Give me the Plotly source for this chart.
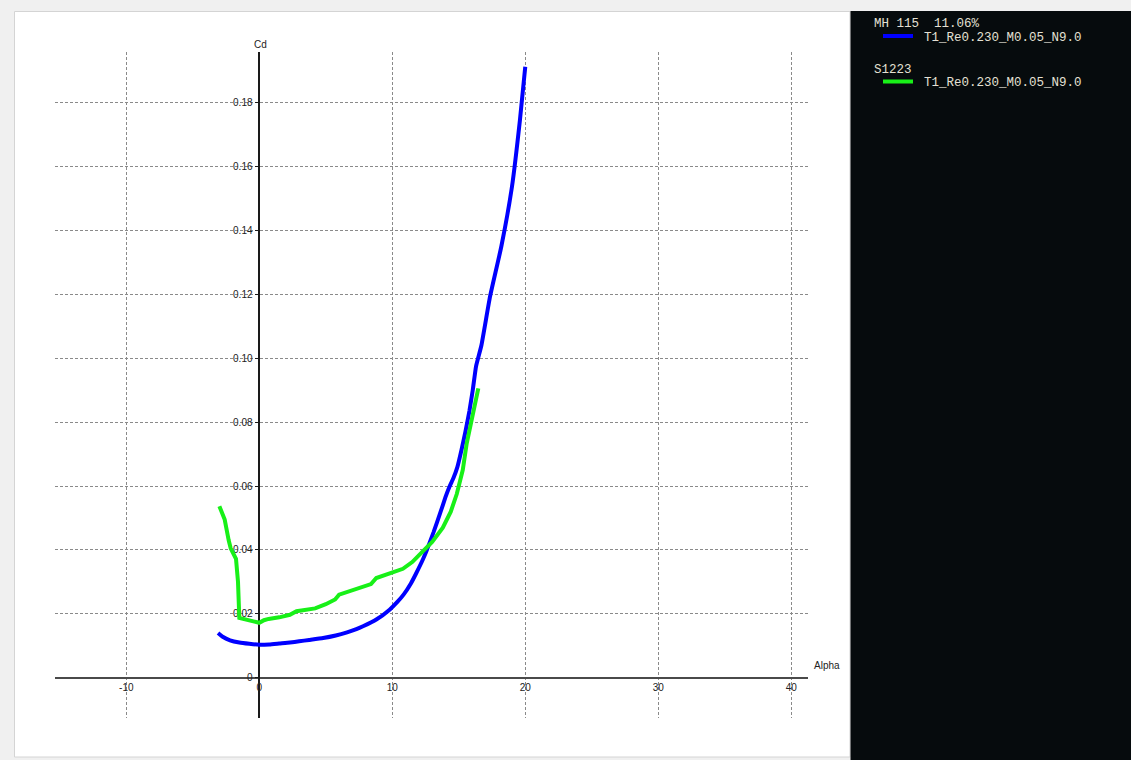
import plotly.graph_objects as go

# ---------------- data ----------------
mh115_alpha = [-3.1, -2.75, -2.2, -1.5, -0.75, 0.0, 0.75, 1.5, 2.3, 3.0, 3.75, 4.8, 5.75,
               6.6, 7.3, 7.8, 8.8, 9.8, 10.4, 10.85, 11.4, 11.8, 12.3, 12.6, 13.1, 13.6,
               14.0, 14.3, 14.6, 14.9, 15.2, 15.5, 15.8, 16.05, 16.3, 16.7, 17.35, 18.2,
               19.0, 19.6, 20.0]
mh115_cd = [0.0140, 0.0128, 0.0117, 0.0110, 0.0106, 0.0103, 0.0104, 0.0107, 0.0110, 0.0114,
            0.0118, 0.0124, 0.0132, 0.0142, 0.0152, 0.0161, 0.0182, 0.0213, 0.0238, 0.0260,
            0.0295, 0.0327, 0.0370, 0.0400, 0.0455, 0.0515, 0.0565, 0.0598, 0.0625, 0.0660,
            0.0712, 0.0770, 0.0835, 0.0900, 0.0975, 0.1040, 0.1193, 0.1350, 0.1537, 0.1746,
            0.1913]

s1223_alpha = [-3.0, -2.6, -2.3, -2.15, -1.75, -1.6, -1.5, -1.0, -0.5, 0.0, 0.35, 0.7, 1.5,
               2.3, 2.8, 3.5, 4.2, 5.0, 5.7, 6.0, 6.8, 7.6, 8.4, 8.8, 9.5, 10.2, 10.8, 11.5,
               12.3, 13.0, 13.8, 14.4, 14.85, 15.3, 15.6, 16.1, 16.47]
s1223_cd = [0.0537, 0.0495, 0.0430, 0.0405, 0.0372, 0.0300, 0.0187, 0.0183, 0.0177, 0.0172,
            0.0180, 0.0184, 0.0189, 0.0197, 0.0208, 0.0214, 0.0217, 0.0230, 0.0245, 0.0260,
            0.0270, 0.0282, 0.0293, 0.0312, 0.0322, 0.0333, 0.0341, 0.0362, 0.0394, 0.0425,
            0.0470, 0.0520, 0.0575, 0.0650, 0.0734, 0.0838, 0.0906]

x_ticks = [-10, 0, 10, 20, 30, 40]
x_tick_labels = ["-10", "0", "10", "20", "30", "40"]
y_ticks = [0, 0.02, 0.04, 0.06, 0.08, 0.10, 0.12, 0.14, 0.16, 0.18]
y_tick_labels = ["0", "0.02", "0.04", "0.06", "0.08", "0.10", "0.12", "0.14", "0.16", "0.18"]

legend_titles = ["MH 115\u00a0\u00a011.06%", "S1223"]
legend_labels = ["T1_Re0.230_M0.05_N9.0", "T1_Re0.230_M0.05_N9.0"]
colors = ["#0000ff", "#18f018"]

# ---------------- layout geometry ----------------
W, H = 1131, 760
L, R, T, B = 55, 808, 52, 718
x_range = [-15.36, 41.26]
y_range = [-0.01262, 0.1959]


def xf(px):
    return (px - L) / (R - L)


def yf(py):
    return (B - py) / (B - T)


fig = go.Figure()
fig.add_trace(go.Scatter(x=mh115_alpha, y=mh115_cd, mode="lines",
                         line=dict(color=colors[0], width=4, shape="spline", smoothing=0.4),
                         showlegend=False))
fig.add_trace(go.Scatter(x=s1223_alpha, y=s1223_cd, mode="lines",
                         line=dict(color=colors[1], width=4), showlegend=False))

tick_font = dict(family="Liberation Sans, Arial, sans-serif", size=10, color="#222222")
grid_common = dict(showgrid=True, gridcolor="#8a8a8a", gridwidth=1, griddash="3px,2px",
                   zeroline=False, layer="below traces")

fig.update_layout(
    width=W, height=H,
    margin=dict(l=L, r=W - R, t=T, b=H - B),
    paper_bgcolor="#f0f0f0",
    plot_bgcolor="rgba(0,0,0,0)",
    showlegend=False,
    xaxis=dict(range=x_range, tickvals=x_ticks, ticktext=x_tick_labels,
               anchor="free", position=(0 - y_range[0]) / (y_range[1] - y_range[0]),
               showline=True, linecolor="#4a4a4a", linewidth=2,
               ticks="", tickfont=tick_font, **grid_common),
    yaxis=dict(range=y_range, tickvals=y_ticks, ticktext=y_tick_labels,
               anchor="free", position=(0 - x_range[0]) / (x_range[1] - x_range[0]),
               showline=True, linecolor="#1a1a1a", linewidth=1.5,
               ticks="outside", ticklen=4, tickcolor="#1a1a1a", tickwidth=1,
               tickfont=tick_font, **grid_common),
)

shapes = [
    # white chart panel
    dict(type="rect", xref="paper", yref="paper", layer="below",
         x0=xf(14.5), x1=xf(850), y0=yf(757), y1=yf(11.5),
         fillcolor="#ffffff", line=dict(color="#d4d4d4", width=1)),
    # dark legend panel
    dict(type="rect", xref="paper", yref="paper", layer="below",
         x0=xf(850.5), x1=xf(W + 5), y0=yf(H + 5), y1=yf(11),
         fillcolor="#060b0d", line=dict(width=0)),
]
annotations = [
    dict(text="Cd", xref="paper", yref="paper", x=xf(260), y=yf(45), showarrow=False,
         xanchor="center", yanchor="middle", font=tick_font),
    dict(text="Alpha", xref="paper", yref="paper", x=xf(812), y=yf(665.5), showarrow=False,
         xanchor="left", yanchor="middle", font=tick_font),
]

legend_font = dict(family="Liberation Mono, Courier New, monospace", size=12.5, color="#e4e0d4")
title_y = [24, 70]
item_y = [37, 82.5]
for i in range(2):
    annotations.append(dict(text=legend_titles[i], xref="paper", yref="paper",
                            x=xf(872), y=yf(title_y[i]), showarrow=False,
                            xanchor="left", yanchor="middle", font=legend_font))
    annotations.append(dict(text=legend_labels[i], xref="paper", yref="paper",
                            x=xf(922), y=yf(item_y[i] + 1), showarrow=False,
                            xanchor="left", yanchor="middle", font=legend_font))
    shapes.append(dict(type="line", xref="paper", yref="paper", layer="above",
                       x0=xf(883), x1=xf(913), y0=yf(item_y[i] - 1), y1=yf(item_y[i] - 1),
                       line=dict(color=colors[i], width=4)))

fig.update_layout(shapes=shapes, annotations=annotations)
fig.write_html(
    "out.html",
    config={"displayModeBar": False},
    post_script="document.body.style.margin='0';document.body.style.padding='0';"
                "document.body.style.overflow='hidden';"
                "document.body.style.background='#f0f0f0';",
)
